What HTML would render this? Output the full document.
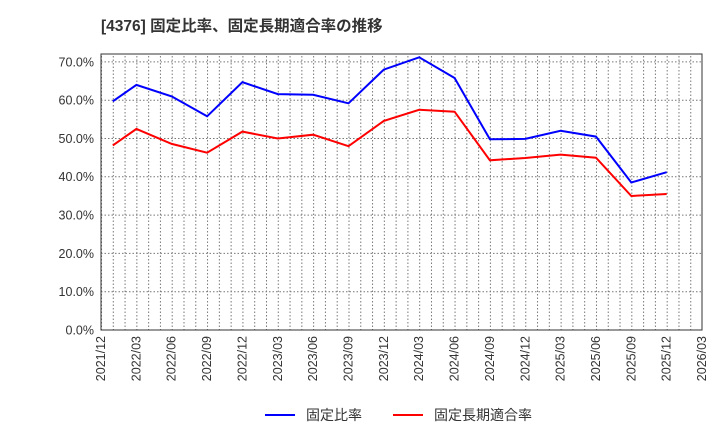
<!DOCTYPE html>
<html><head><meta charset="utf-8"><style>
body{margin:0;background:#fff;}
svg{display:block;font-family:"Liberation Sans","Noto Sans CJK JP",sans-serif;}
</style></head><body>
<svg width="720" height="440" xmlns="http://www.w3.org/2000/svg">
<defs>
<pattern id="vg" x="101" y="0" width="11.785" height="440" patternUnits="userSpaceOnUse">
<line x1="0.5" y1="0" x2="0.5" y2="440" stroke="#777" stroke-width="1" stroke-dasharray="1.5,2"/>
</pattern>
</defs>
<text x="101" y="31" font-size="15.5" font-weight="bold" fill="#333">[4376]  固定比率、固定長期適合率の推移</text>
<rect x="101" y="54" width="601" height="276" fill="url(#vg)"/>
<g stroke="#777" stroke-width="1" stroke-dasharray="1.5,2">
<line x1="101" y1="291.7" x2="702" y2="291.7"/>
<line x1="101" y1="253.4" x2="702" y2="253.4"/>
<line x1="101" y1="215.1" x2="702" y2="215.1"/>
<line x1="101" y1="176.8" x2="702" y2="176.8"/>
<line x1="101" y1="138.5" x2="702" y2="138.5"/>
<line x1="101" y1="100.2" x2="702" y2="100.2"/>
<line x1="101" y1="61.9" x2="702" y2="61.9"/>
</g>
<rect x="101" y="54" width="601" height="276" fill="none" stroke="#333" stroke-width="1"/>
<g font-size="12.5" fill="#333" text-anchor="end">
<text x="94" y="334.5">0.0%</text>
<text x="94" y="296">10.0%</text>
<text x="94" y="258">20.0%</text>
<text x="94" y="219.5">30.0%</text>
<text x="94" y="181">40.0%</text>
<text x="94" y="143">50.0%</text>
<text x="94" y="104.5">60.0%</text>
<text x="94" y="66.5">70.0%</text>
</g>
<g font-size="12.5" fill="#333" text-anchor="end">
<text transform="translate(105,336) rotate(-90)">2021/12</text>
<text transform="translate(140.4,336) rotate(-90)">2022/03</text>
<text transform="translate(175.7,336) rotate(-90)">2022/06</text>
<text transform="translate(211.1,336) rotate(-90)">2022/09</text>
<text transform="translate(246.4,336) rotate(-90)">2022/12</text>
<text transform="translate(281.8,336) rotate(-90)">2023/03</text>
<text transform="translate(317.1,336) rotate(-90)">2023/06</text>
<text transform="translate(352.5,336) rotate(-90)">2023/09</text>
<text transform="translate(387.8,336) rotate(-90)">2023/12</text>
<text transform="translate(423.2,336) rotate(-90)">2024/03</text>
<text transform="translate(458.6,336) rotate(-90)">2024/06</text>
<text transform="translate(493.9,336) rotate(-90)">2024/09</text>
<text transform="translate(529.3,336) rotate(-90)">2024/12</text>
<text transform="translate(564.6,336) rotate(-90)">2025/03</text>
<text transform="translate(600,336) rotate(-90)">2025/06</text>
<text transform="translate(635.3,336) rotate(-90)">2025/09</text>
<text transform="translate(670.7,336) rotate(-90)">2025/12</text>
<text transform="translate(706,336) rotate(-90)">2026/03</text>
</g>
<polyline fill="none" stroke="#0000ff" stroke-width="2" points="112.8,101.3 136.4,84.9 171.7,96.4 207.1,116.3 242.4,82.2 277.8,94.1 313.1,94.8 348.5,103.3 383.8,69.6 419.2,57.3 454.6,78 489.9,139.3 525.3,138.9 560.6,130.8 596,136.6 631.3,182.5 666.7,172.2"/>
<polyline fill="none" stroke="#ff0000" stroke-width="2" points="112.8,145.4 136.4,128.9 171.7,143.9 207.1,152.7 242.4,131.6 277.8,138.5 313.1,134.7 348.5,146.2 383.8,120.9 419.2,109.8 454.6,111.7 489.9,160.3 525.3,158 560.6,154.6 596,157.7 631.3,196 666.7,194"/>
<line x1="265" y1="415" x2="295" y2="415" stroke="#0000ff" stroke-width="2"/>
<text x="306" y="420" font-size="14" fill="#333">固定比率</text>
<line x1="393" y1="415" x2="423" y2="415" stroke="#ff0000" stroke-width="2"/>
<text x="434" y="420" font-size="14" fill="#333">固定長期適合率</text>
</svg>
</body></html>
